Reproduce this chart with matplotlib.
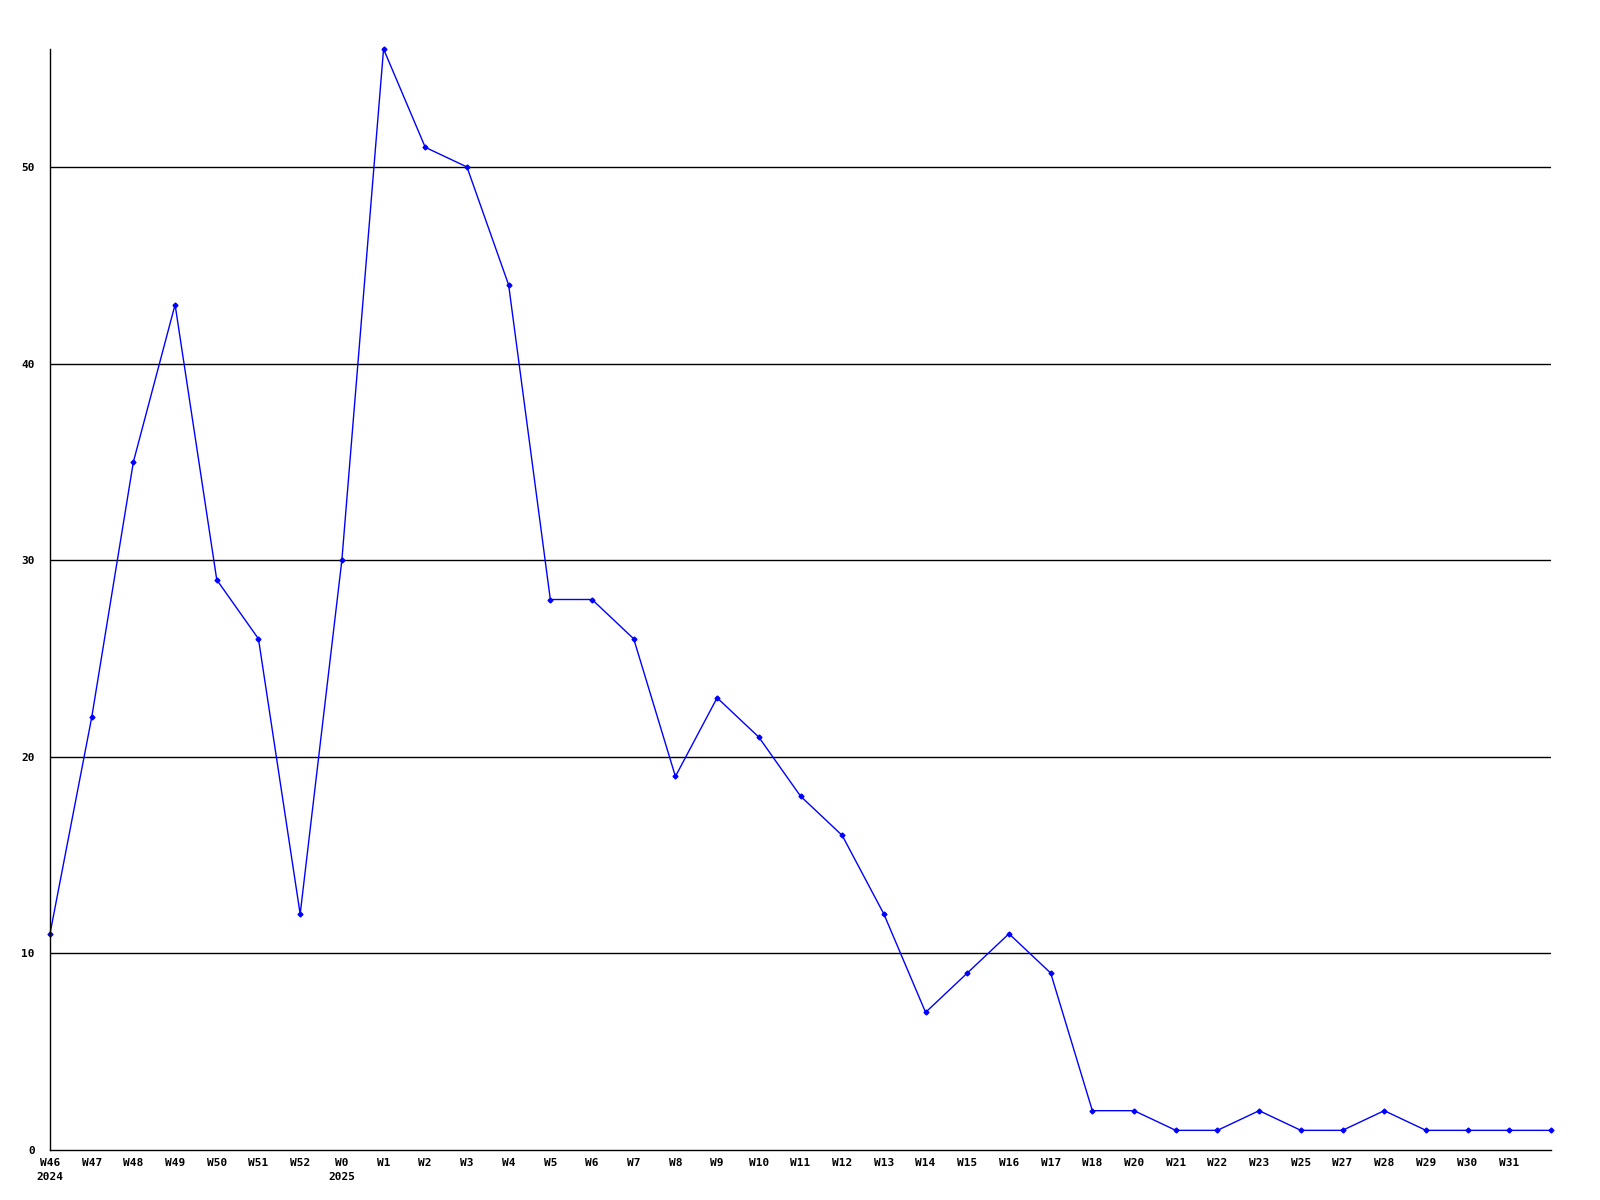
import matplotlib
matplotlib.use("Agg")
import matplotlib.pyplot as plt

weeks = ["W46", "W47", "W48", "W49", "W50", "W51", "W52", "W0", "W1", "W2",
         "W3", "W4", "W5", "W6", "W7", "W8", "W9", "W10", "W11", "W12",
         "W13", "W14", "W15", "W16", "W17", "W18", "W20", "W21", "W22", "W23",
         "W25", "W27", "W28", "W29", "W30", "W31", ""]
years = {0: "2024", 7: "2025"}
counts = [11, 22, 35, 43, 29, 26, 12, 30, 56, 51,
          50, 44, 28, 28, 26, 19, 23, 21, 18, 16,
          12, 7, 9, 11, 9, 2, 2, 1, 1, 2,
          1, 1, 2, 1, 1, 1, 1]

fig = plt.figure(figsize=(16, 12), dpi=100)
ax = fig.add_axes([50/1600, 1 - 1150/1200, 1501/1600, 1101/1200])

x = list(range(len(counts)))
ax.plot(x, counts, color="#0000ff", lw=1, marker="D", ms=2.5, clip_on=False)

ax.set_xlim(0, len(counts) - 1)
ax.set_ylim(0, 56)

for v in [10, 20, 30, 40, 50]:
    ax.axhline(v, color="black", lw=1, zorder=0)

labels = [w + ("\n" + years[i] if i in years else "") for i, w in enumerate(weeks)]
ax.set_xticks(x)
ax.set_xticklabels(labels, fontfamily="DejaVu Sans Mono", fontweight="bold",
                   fontsize=8, linespacing=1.5, va="top")
ax.set_yticks([0, 10, 20, 30, 40, 50])
ax.set_yticklabels(["0", "10", "20", "30", "40", "50"], fontfamily="DejaVu Sans Mono",
                   fontweight="bold", fontsize=8)
ax.tick_params(axis="both", length=0)
ax.tick_params(axis="x", pad=6)
ax.tick_params(axis="y", pad=11)

for s in ["top", "right"]:
    ax.spines[s].set_visible(False)
for s in ["left", "bottom"]:
    ax.spines[s].set_linewidth(1)
    ax.spines[s].set_color("black")

fig.savefig("out.png", dpi=100)
